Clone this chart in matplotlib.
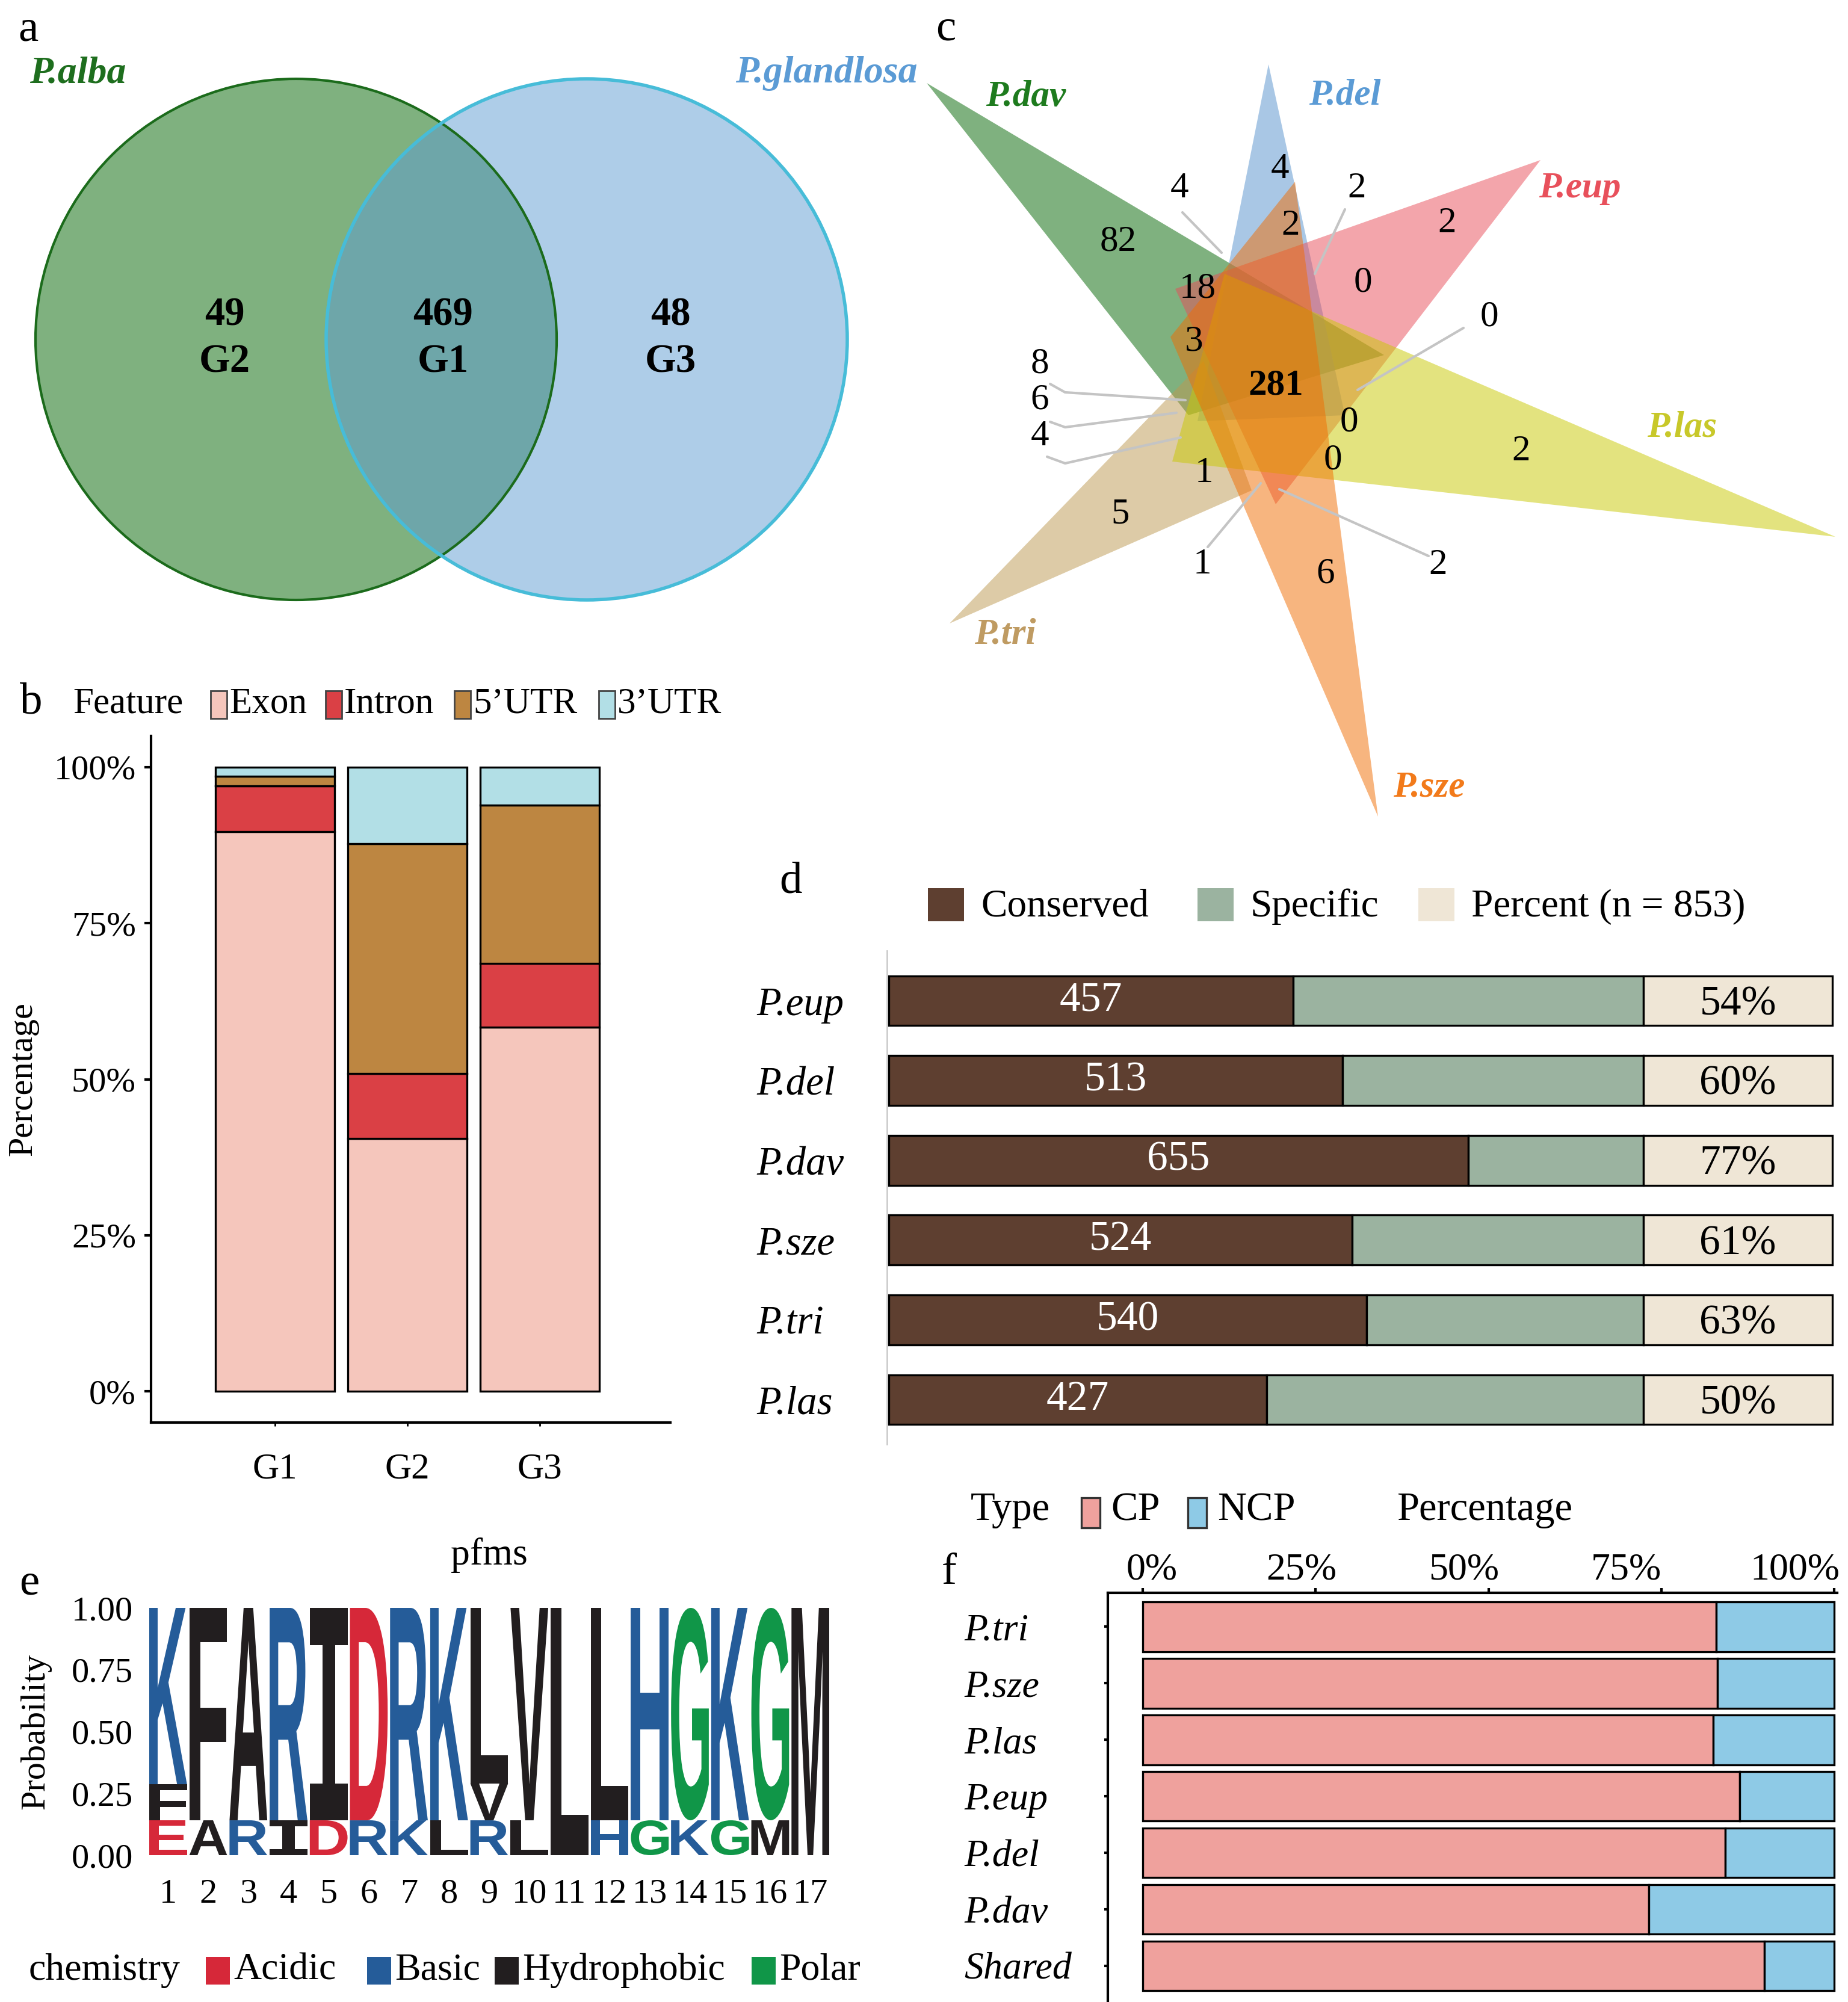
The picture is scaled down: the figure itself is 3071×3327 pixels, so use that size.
import numpy as np
import matplotlib
matplotlib.use('Agg')
import matplotlib.pyplot as plt
from matplotlib.patches import Circle, Polygon, Rectangle, PathPatch
from matplotlib.textpath import TextPath
from matplotlib.font_manager import FontProperties
import matplotlib.transforms as mtransforms

plt.rcParams['font.family'] = ['Liberation Serif', 'DejaVu Serif']
plt.rcParams['axes.linewidth'] = 1.5

W, H = 3071, 3327
DPI = 200

# ---------------- data ----------------
# a: two-set venn
venn2_sets = ['P.alba', 'P.glandlosa']
venn2_counts = [49, 469, 48]
venn2_groups = ['G2', 'G1', 'G3']

# b: feature composition (%)
feat_groups = ['G1', 'G2', 'G3']
feat_names = ['Exon', 'Intron', '5’UTR', '3’UTR']
exon = [89.7, 40.5, 58.3]
intron = [7.3, 10.4, 10.3]
utr5 = [1.5, 36.8, 25.3]
utr3 = [1.5, 12.3, 6.1]

# c: six-set venn
venn6_sets = ['P.dav', 'P.del', 'P.eup', 'P.las', 'P.sze', 'P.tri']
venn6_counts = [82, 4, 4, 2, 2, 2, 18, 0, 0, 3, 281, 8, 6, 4, 0, 0, 2, 1, 5, 1, 6, 2]

# d: conserved vs specific
species_d = ['P.eup', 'P.del', 'P.dav', 'P.sze', 'P.tri', 'P.las']
conserved = [457, 513, 655, 524, 540, 427]
n_total = 853

# e: sequence logo (letters bottom -> top, probabilities)
logo_letters = [['E', 'F', 'K'], ['A', 'F'], ['R', 'A'], ['I', 'R'], ['D', 'I'],
                ['R', 'D'], ['K', 'R'], ['L', 'K'], ['R', 'V', 'L'], ['L', 'V'],
                ['L'], ['H', 'L'], ['G', 'H'], ['K', 'G'], ['G', 'K'], ['M', 'G'], ['M']]
logo_probs = [[0.141, 0.146, 0.713], [0.141, 0.859], [0.141, 0.859], [0.141, 0.859],
              [0.141, 0.859], [0.141, 0.859], [0.141, 0.859], [0.141, 0.859],
              [0.141, 0.149, 0.710], [0.141, 0.859], [1.0], [0.141, 0.859],
              [0.141, 0.859], [0.141, 0.859], [0.141, 0.859], [0.141, 0.859], [1.0]]
chem_names = ['Acidic', 'Basic', 'Hydrophobic', 'Polar']
chem_colors = ['#D62839', '#255C99', '#221E1F', '#109648']
chem_of = {'D': 0, 'E': 0, 'K': 1, 'R': 1, 'H': 1,
           'A': 2, 'V': 2, 'L': 2, 'I': 2, 'P': 2, 'W': 2, 'F': 2, 'M': 2,
           'G': 3, 'S': 3, 'T': 3, 'Y': 3, 'C': 3}

# f: CP / NCP
species_f = ['P.tri', 'P.sze', 'P.las', 'P.eup', 'P.del', 'P.dav', 'Shared']
cp_pct = [82.9, 83.1, 82.5, 86.3, 84.2, 73.2, 89.9]


def px_rect(l, t, r, b):
    return [l / W, 1 - b / H, (r - l) / W, (b - t) / H]


fig = plt.figure(figsize=(W / DPI, H / DPI), dpi=DPI)
ov = fig.add_axes([0, 0, 1, 1], zorder=0)
ov.set_xlim(0, W)
ov.set_ylim(H, 0)
ov.axis('off')

# panel letters
for s, (x, y) in zip('abcdef', [(30, 50), (33, 1168), (1555, 49), (1295, 1466), (32, 2632), (1565, 2614)]):
    ov.text(x, y, s, fontsize=27, ha='left', va='center')

# ---------------- a ----------------
ca, cb, r = (492, 564), (975, 564), 433
ov.add_patch(Circle(ca, r, fc='#006400', alpha=0.5, ec='none'))
ov.add_patch(Circle(cb, r, fc='#5E9CD3', alpha=0.5, ec='none'))
ov.add_patch(Circle(ca, r, fc='none', ec='#1B6B1B', lw=1.5))
ov.add_patch(Circle(cb, r, fc='none', ec='#47BCD8', lw=2))
ov.text(129, 122, venn2_sets[0], color='#1E6E1E', fontsize=23, fontweight='bold',
        fontstyle='italic', ha='center', va='center')
ov.text(1373, 122, venn2_sets[1], color='#5B9BD5', fontsize=23, fontweight='bold',
        fontstyle='italic', ha='center', va='center')
for x, n, g in zip([373, 736, 1114], venn2_counts, venn2_groups):
    ov.text(x, 524, str(n), fontsize=24, fontweight='bold', ha='center', va='center')
    ov.text(x, 602, g, fontsize=24, fontweight='bold', ha='center', va='center')

# ---------------- c ----------------
tri_pts = [[(1540, 138), (2300, 590), (1975, 690)],
           [(2108, 107), (1990, 700), (2235, 690)],
           [(2560, 266), (1953, 480), (2120, 838)],
           [(3050, 892), (2035, 455), (1948, 767)],
           [(2290, 1357), (2152, 302), (1945, 560)],
           [(1578, 1036), (2000, 600), (2080, 815)]]
tri_fill = ['#006500', '#5591CD', '#E94D59', '#C9C901', '#F16D00', '#BD9951']
tri_lab = ['#1E7B1E', '#5B9BD5', '#E8505B', '#C8C82A', '#F27A1A', '#BF9B62']
lab_pos = [(1705, 161), (2235, 159), (2625, 313), (2795, 710), (2375, 1308), (1670, 1054)]
for i in [0, 1, 2, 5, 3, 4]:
    ov.add_patch(Polygon(tri_pts[i], closed=True, fc=tri_fill[i], alpha=0.5, ec='none'))
for name, col, (x, y) in zip(venn6_sets, tri_lab, lab_pos):
    ov.text(x, y, name, color=col, fontsize=22, fontweight='bold', fontstyle='italic',
            ha='center', va='center')

leaders = [[(1965, 353), (2030, 420)], [(2235, 348), (2185, 455)],
           [(2432, 545), (2256, 648)], [(1745, 638), (1770, 652), (1970, 665)],
           [(1745, 701), (1770, 710), (1955, 686)], [(1740, 759), (1770, 770), (1962, 727)],
           [(2007, 909), (2095, 803)], [(2374, 924), (2126, 813)]]
for ln in leaders:
    xs, ys = zip(*ln)
    ov.plot(xs, ys, color='#C4C4C4', lw=1.5, solid_capstyle='round')

num_pos = [(1858, 402), (1960, 313), (2127, 281), (2255, 313), (2145, 375), (2405, 371),
           (1990, 480), (2265, 470), (2475, 527), (1984, 568), (2120, 640), (1728, 605),
           (1728, 665), (1728, 725), (2242, 702), (2215, 765), (2528, 750), (2001, 786),
           (1862, 855), (1998, 938), (2203, 954), (2390, 939)]
for n, (x, y) in zip(venn6_counts, num_pos):
    ov.text(x, y, str(n), fontsize=22, ha='center', va='center',
            fontweight='bold' if n == 281 else 'normal')

# ---------------- b ----------------
feat_colors = ['#F5C6BC', '#DA4045', '#BD8641', '#B2DFE6']
axb = fig.add_axes(px_rect(251, 1223, 1114, 2364), zorder=1)
axb.patch.set_alpha(0)
xb = np.arange(1, len(feat_groups) + 1)
bottom = np.zeros(len(feat_groups))
for vals, col in zip([exon, intron, utr5, utr3], feat_colors):
    axb.bar(xb, vals, 0.9, bottom=bottom, color=col, edgecolor='black', linewidth=1.2)
    bottom += np.array(vals)
axb.set_xlim(0.064, 3.986)
axb.set_ylim(-5, 105)
axb.set_yticks([0, 25, 50, 75, 100])
axb.set_yticklabels(['0%', '25%', '50%', '75%', '100%'], fontsize=21)
axb.set_xticks(xb)
axb.set_xticklabels(feat_groups, fontsize=22)
axb.tick_params(axis='y', length=4, width=1.5, pad=5)
axb.tick_params(axis='x', length=2, width=1, pad=16)
axb.spines[['top', 'right']].set_visible(False)
axb.set_ylabel('Percentage', fontsize=21, labelpad=9)

ov.text(121, 1170, 'Feature', fontsize=22, ha='left', va='center')
for x0, col, name in zip([350, 541, 755, 995], feat_colors, feat_names):
    ov.add_patch(Rectangle((x0, 1148), 27, 46, fc=col, ec='#444444', lw=1))
    ov.text(x0 + 31, 1170, name, fontsize=22, ha='left', va='center')

# ---------------- d ----------------
col_cons, col_spec, col_pct = '#5E3F30', '#9BB3A0', '#EFE6D6'
pct_box = 214
axd = fig.add_axes(px_rect(1474, 1580, 3060, 2400), zorder=1)
axd.patch.set_alpha(0)
yd = np.arange(len(species_d))
cons = np.array(conserved)
axd.barh(yd, cons, 0.625, color=col_cons, edgecolor='black', linewidth=1.2)
axd.barh(yd, n_total - cons, 0.625, left=cons, color=col_spec, edgecolor='black', linewidth=1.2)
axd.barh(yd, pct_box, 0.625, left=n_total, color=col_pct, edgecolor='black', linewidth=1.2)
for i, c in enumerate(conserved):
    axd.text(c / 2, i, str(c), color='white', fontsize=25, ha='center', va='center')
    axd.text(n_total + pct_box / 2, i + 0.05, f'{round(100 * c / n_total)}%',
             fontsize=25, ha='center', va='center')
axd.set_xlim(-2, 1077)
axd.set_ylim(5.558, -0.626)
axd.set_xticks([])
axd.set_yticks(yd)
axd.set_yticklabels(species_d, fontsize=24, fontstyle='italic', ha='left')
axd.tick_params(axis='y', length=0, pad=78)
for s in ['top', 'right', 'bottom']:
    axd.spines[s].set_visible(False)
axd.spines['left'].set_color('#CCCCCC')
axd.spines['left'].set_linewidth(1)

for x0, col, name in zip([1542, 1990, 2357], [col_cons, col_spec, col_pct],
                         ['Conserved', 'Specific', f'Percent (n = {n_total})']):
    ov.add_patch(Rectangle((x0, 1476), 60, 55, fc=col, ec='none'))
    ov.text(x0 + 88, 1507, name, fontsize=23.5, ha='left', va='center')

# ---------------- e ----------------
axe = fig.add_axes(px_rect(246, 2672, 1380, 3083), zorder=1)
axe.patch.set_alpha(0)
fp_logo = FontProperties(family='Liberation Sans', weight='bold')
fp_serif_i = FontProperties(family='DejaVu Sans Mono', weight='bold')
lw_frac = 0.94
for pos, (lets, probs) in enumerate(zip(logo_letters, logo_probs), start=1):
    y0 = 0.0
    for ch, p in zip(lets, probs):
        tp = TextPath((0, 0), ch, size=1, prop=fp_serif_i if ch == 'I' else fp_logo)
        bb = tp.get_extents()
        tr = (mtransforms.Affine2D().translate(-bb.x0, -bb.y0)
              .scale(lw_frac / bb.width, p / bb.height)
              .translate(pos - lw_frac / 2, y0))
        axe.add_patch(PathPatch(tr.transform_path(tp), fc=chem_colors[chem_of[ch]], ec='none'))
        y0 += p
axe.set_xlim(0.5, len(logo_letters) + 0.5)
axe.set_ylim(0, 1)
axe.set_yticks([0, 0.25, 0.5, 0.75, 1.0])
axe.set_yticklabels(['0.00', '0.25', '0.50', '0.75', '1.00'], fontsize=21)
axe.set_xticks(np.arange(1, len(logo_letters) + 1))
axe.set_xticklabels([str(i) for i in range(1, len(logo_letters) + 1)], fontsize=21)
axe.tick_params(length=0)
axe.tick_params(axis='y', pad=9)
axe.tick_params(axis='x', pad=14)
for s in axe.spines.values():
    s.set_visible(False)
axe.set_ylabel('Probability', fontsize=21, labelpad=12)
ov.text(813, 2585, 'pfms', fontsize=23, ha='center', va='center')

ov.text(48, 3275, 'chemistry', fontsize=23, ha='left', va='center')
for x0, col, name in zip([342, 610, 822, 1249], chem_colors, chem_names):
    ov.add_patch(Rectangle((x0, 3252), 40, 46, fc=col, ec='none'))
    ov.text(x0 + 46, 3275, name, fontsize=23, ha='left', va='center')

# ---------------- f ----------------
col_cp, col_ncp = '#EFA19D', '#8ECAE6'
axf = fig.add_axes(px_rect(1841, 2647, 3053, 3327), zorder=1)
axf.patch.set_alpha(0)
yf = np.arange(len(species_f))
cp = np.array(cp_pct)
axf.barh(yf, cp, 0.88, color=col_cp, edgecolor='black', linewidth=1.2)
axf.barh(yf, 100 - cp, 0.88, left=cp, color=col_ncp, edgecolor='black', linewidth=1.2)
axf.set_xlim(-5.05, 100.4)
axf.set_ylim(6.64, -0.6)
axf.xaxis.tick_top()
axf.set_xticks([0, 25, 50, 75, 100])
axf.set_xticklabels(['0%', '25%', '50%', '75%', '100%'], fontsize=23)
axf.tick_params(axis='x', length=3, width=1.5, pad=0)
# the reference labels drift left of their ticks
for lab, dx in zip(axf.get_xticklabels(), [15, -24, -41, -59, -66]):
    lab.set_transform(lab.get_transform() +
                      mtransforms.ScaledTranslation(dx / DPI, 0, fig.dpi_scale_trans))
axf.set_yticks(yf)
axf.set_yticklabels(species_f, fontsize=23, fontstyle='italic', ha='left')
axf.tick_params(axis='y', length=2, width=1.5, pad=84)
axf.spines[['bottom', 'right']].set_visible(False)

ov.text(1613, 2510, 'Type', fontsize=24, ha='left', va='center')
for x0, col, name in zip([1797, 1974], [col_cp, col_ncp], ['CP', 'NCP']):
    ov.add_patch(Rectangle((x0, 2489), 31, 50, fc=col, ec='#333333', lw=1.2))
    ov.text(x0 + 49, 2510, name, fontsize=24, ha='left', va='center')
ov.text(2321, 2510, 'Percentage', fontsize=24, ha='left', va='center')

fig.savefig('out.png', dpi=DPI)
